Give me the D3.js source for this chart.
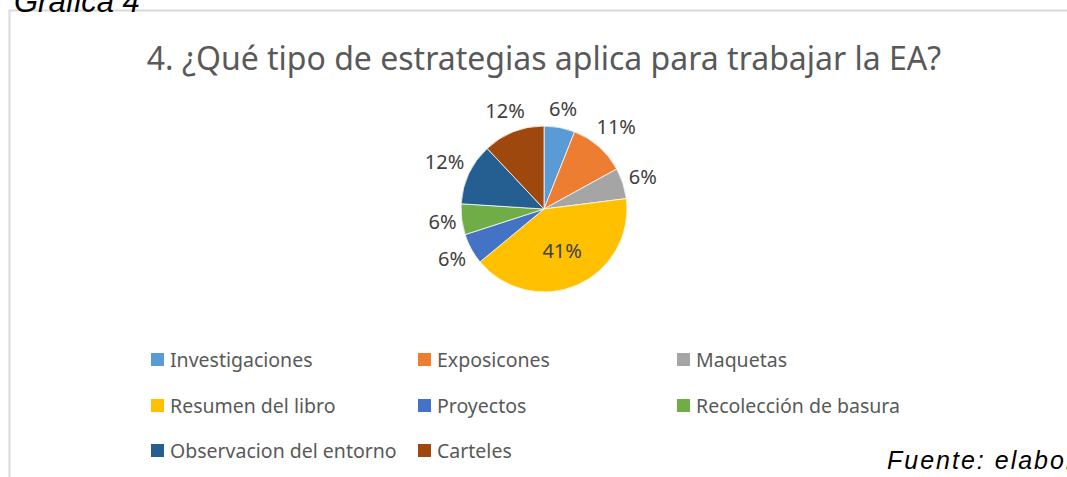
<!DOCTYPE html>
<html>
<head>
<meta charset="utf-8">
<script src="https://cdn.jsdelivr.net/npm/d3@7"></script>
<style>
  html, body { margin: 0; padding: 0; background: #fff; }
  svg { display: block; }
</style>
</head>
<body>
<div id="chart"></div>
<script>
// data
var categories = ["Investigaciones", "Exposicones", "Maquetas", "Resumen del libro",
                  "Proyectos", "Recolección de basura", "Observacion del entorno", "Carteles"];
var percents = [6, 11, 6, 41, 6, 6, 12, 12];
var colors = ["#5B9BD5", "#ED7D31", "#A5A5A5", "#FFC000", "#4472C4", "#70AD47", "#255E91", "#9E480E"];

var width = 1067, height = 477;
var cx = 544, cy = 209, radius = 83;

var svg = d3.select("#chart").append("svg")
    .attr("width", width)
    .attr("height", height);

// chart frame (cut by the page on the right and bottom)
svg.append("path")
    .attr("d", "M9.5," + height + "V10.5H" + width)
    .attr("fill", "none")
    .attr("stroke", "#d9d9d9")
    .attr("stroke-width", 2);

svg.append("text")
    .attr("x", 14)
    .attr("y", 12)
    .attr("font-family", "Liberation Sans, Arial, sans-serif")
    .attr("font-style", "italic")
    .attr("font-size", 31)
    .attr("fill", "#000")
    .text("Gráfica 4");

svg.append("text")
    .attr("x", cx)
    .attr("y", 70)
    .attr("text-anchor", "middle")
    .attr("font-family", "Noto Sans, sans-serif")
    .attr("font-size", 32)
    .attr("fill", "#595959")
    .text("4. ¿Qué tipo de estrategias aplica para trabajar la EA?");

var pie = d3.pie().sort(null).value(function(d) { return d; });
var arcs = pie(percents);
var arc = d3.arc().innerRadius(0).outerRadius(radius);

var g = svg.append("g").attr("transform", "translate(" + cx + "," + cy + ")");

g.selectAll(".slice")
    .data(arcs).enter().append("path")
    .attr("class", "slice")
    .attr("d", arc)
    .attr("fill", function(d, i) { return colors[i]; })
    .attr("stroke", "#fff")
    .attr("stroke-width", 0.75);

// labels: big slice inside, others just outside the edge
g.selectAll(".lbl")
    .data(arcs).enter().append("text")
    .attr("class", "lbl")
    .attr("text-anchor", "middle")
    .attr("dy", "0.35em")
    .attr("font-family", "Noto Sans, sans-serif")
    .attr("font-size", 20)
    .attr("fill", "#404040")
    .attr("transform", function(d) {
        var a = (d.startAngle + d.endAngle) / 2;
        var s = Math.sin(a), c = -Math.cos(a);
        var r;
        if (d.endAngle - d.startAngle > Math.PI / 2) {
            r = radius * 0.55;
        } else {
            var hw = String(d.data).length * 6 + 6, hh = 11;
            r = radius + 6 + Math.abs(s) * hw + Math.abs(c) * hh;
        }
        return "translate(" + (s * r) + "," + (c * r) + ")";
    })
    .text(function(d) { return d.data + "%"; });

// legend, 3 columns
var legendX = d3.scaleOrdinal().domain([0, 1, 2]).range([151, 418, 677]);
var legendY = d3.scaleOrdinal().domain([0, 1, 2]).range([360, 406, 451]);

var item = svg.selectAll(".legend-item")
    .data(categories).enter().append("g")
    .attr("class", "legend-item")
    .attr("transform", function(d, i) {
        return "translate(" + legendX(i % 3) + "," + legendY(Math.floor(i / 3)) + ")";
    });

item.append("rect")
    .attr("x", 0)
    .attr("y", -7)
    .attr("width", 13)
    .attr("height", 13)
    .attr("fill", function(d, i) { return colors[i]; });

item.append("text")
    .attr("x", 19)
    .attr("dy", "0.35em")
    .attr("font-family", "Noto Sans, sans-serif")
    .attr("font-size", 19.5)
    .attr("fill", "#595959")
    .text(function(d) { return d; });

svg.append("text")
    .attr("x", 887)
    .attr("y", 469)
    .attr("font-family", "Liberation Sans, Arial, sans-serif")
    .attr("font-style", "italic")
    .attr("font-size", 25)
    .attr("letter-spacing", 2)
    .attr("fill", "#000")
    .text("Fuente: elaboración propia");
</script>
</body>
</html>
